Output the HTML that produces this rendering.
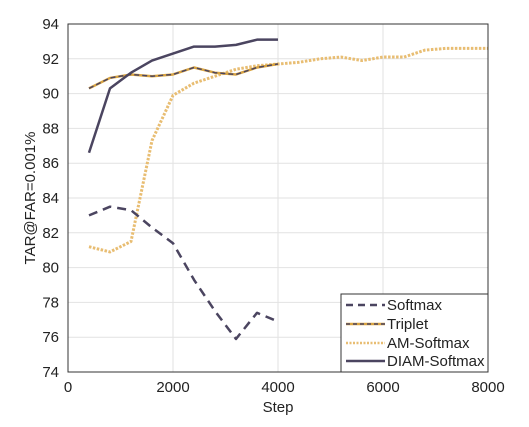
<!DOCTYPE html>
<html><head><meta charset="utf-8"><style>
body{margin:0;background:#fff;}
svg text{font-family:"Liberation Sans",sans-serif;fill:#222;}
</style></head><body>
<svg id="chart" width="529" height="422" xmlns="http://www.w3.org/2000/svg">
<g id="grid"></g>
<g id="series"></g>
<rect x="68" y="24" width="420" height="348" fill="none" stroke="#333" stroke-width="1"/>
<g id="ticks"></g>
<text x="278" y="412" font-size="15" text-anchor="middle">Step</text>
<text transform="translate(35,198) rotate(-90)" font-size="15" text-anchor="middle">TAR@FAR=0.001%</text>
<g>
<rect x="341" y="294" width="147" height="78" fill="#fff" stroke="#333" stroke-width="1"/>
<line x1="346" y1="305" x2="385" y2="305" stroke="#4b4560" stroke-width="2.5" stroke-dasharray="7,5"/>
<text x="387" y="310" font-size="15">Softmax</text>
<line x1="346" y1="324" x2="385" y2="324" stroke="#d9a441" stroke-width="2.5"/>
<line x1="346" y1="324" x2="385" y2="324" stroke="#4b4560" stroke-width="1.5" stroke-dasharray="4,3"/>
<text x="387" y="329" font-size="15">Triplet</text>
<line x1="346" y1="343" x2="385" y2="343" stroke="#e8bd72" stroke-width="2.5" stroke-dasharray="2,1.5"/>
<text x="387" y="348" font-size="15">AM-Softmax</text>
<line x1="346" y1="361" x2="385" y2="361" stroke="#4b4560" stroke-width="2.5"/>
<text x="387" y="366" font-size="15">DIAM-Softmax</text>
</g>
</svg>
<script>
const steps=[400,800,1200,1600,2000,2400,2800,3200,3600,4000];
const softmax=[83.0,83.5,83.3,82.3,81.4,79.3,77.5,75.9,77.4,76.9];
const triplet=[90.3,90.9,91.1,91.0,91.1,91.5,91.2,91.1,91.5,91.7];
const diam=[86.6,90.3,91.2,91.9,92.3,92.7,92.7,92.8,93.1,93.1];
const amSteps=[400,800,1200,1600,2000,2400,2800,3200,3600,4000,4400,4800,5200,5600,6000,6400,6800,7200,7600,8000];
const amSoftmax=[81.2,80.9,81.5,87.3,89.9,90.6,91.0,91.4,91.6,91.7,91.8,92.0,92.1,91.9,92.1,92.1,92.5,92.6,92.6,92.6];
const xTicks=[0,2000,4000,6000,8000];
const yTicks=[74,76,78,80,82,84,86,88,90,92,94];
const X=v=>68+v/8000*420, Y=v=>372-(v-74)/20*348;
const NS="http://www.w3.org/2000/svg";
function mk(t,a,p){const e=document.createElementNS(NS,t);for(const k in a)e.setAttribute(k,a[k]);p.appendChild(e);return e;}
const grid=document.getElementById('grid'),ticks=document.getElementById('ticks'),ser=document.getElementById('series');
xTicks.forEach(v=>{
 const l=mk('line',{x1:X(v),x2:X(v),y1:24,y2:372,stroke:'#e2e2e2'},grid);
 
 
 const t=mk('text',{x:X(v),y:392,'font-size':15,'text-anchor':'middle'},ticks);t.textContent=v;
 
 
});
yTicks.forEach(v=>{
 const l=mk('line',{x1:68,x2:488,y1:Y(v),y2:Y(v),stroke:'#e2e2e2'},grid);
 
 
 const t=mk('text',{x:59,y:Y(v)+5,'font-size':15,'text-anchor':'end'},ticks);t.textContent=v;
 
 
});
function pts(xs,ys){return xs.map((x,i)=>X(x)+','+Y(ys[i])).join(' ');}
function line(xs,ys,st,name){const p=mk('polyline',Object.assign({points:pts(xs,ys),fill:'none','stroke-linejoin':'round'},st),ser);
 
 }
line(amSteps,amSoftmax,{stroke:'#e8bd72','stroke-width':3,'stroke-dasharray':'2.5,1.5'},'am-softmax-line');
line(steps,triplet,{stroke:'#d9a441','stroke-width':2.5},'triplet-line-base');
line(steps,triplet,{stroke:'#4b4560','stroke-width':1.5,'stroke-dasharray':'5,3'},'triplet-line');
line(steps,softmax,{stroke:'#4b4560','stroke-width':2.5,'stroke-dasharray':'9,6'},'softmax-line');
line(steps,diam,{stroke:'#4b4560','stroke-width':2.5},'diam-softmax-line');
</script>
</body></html>
